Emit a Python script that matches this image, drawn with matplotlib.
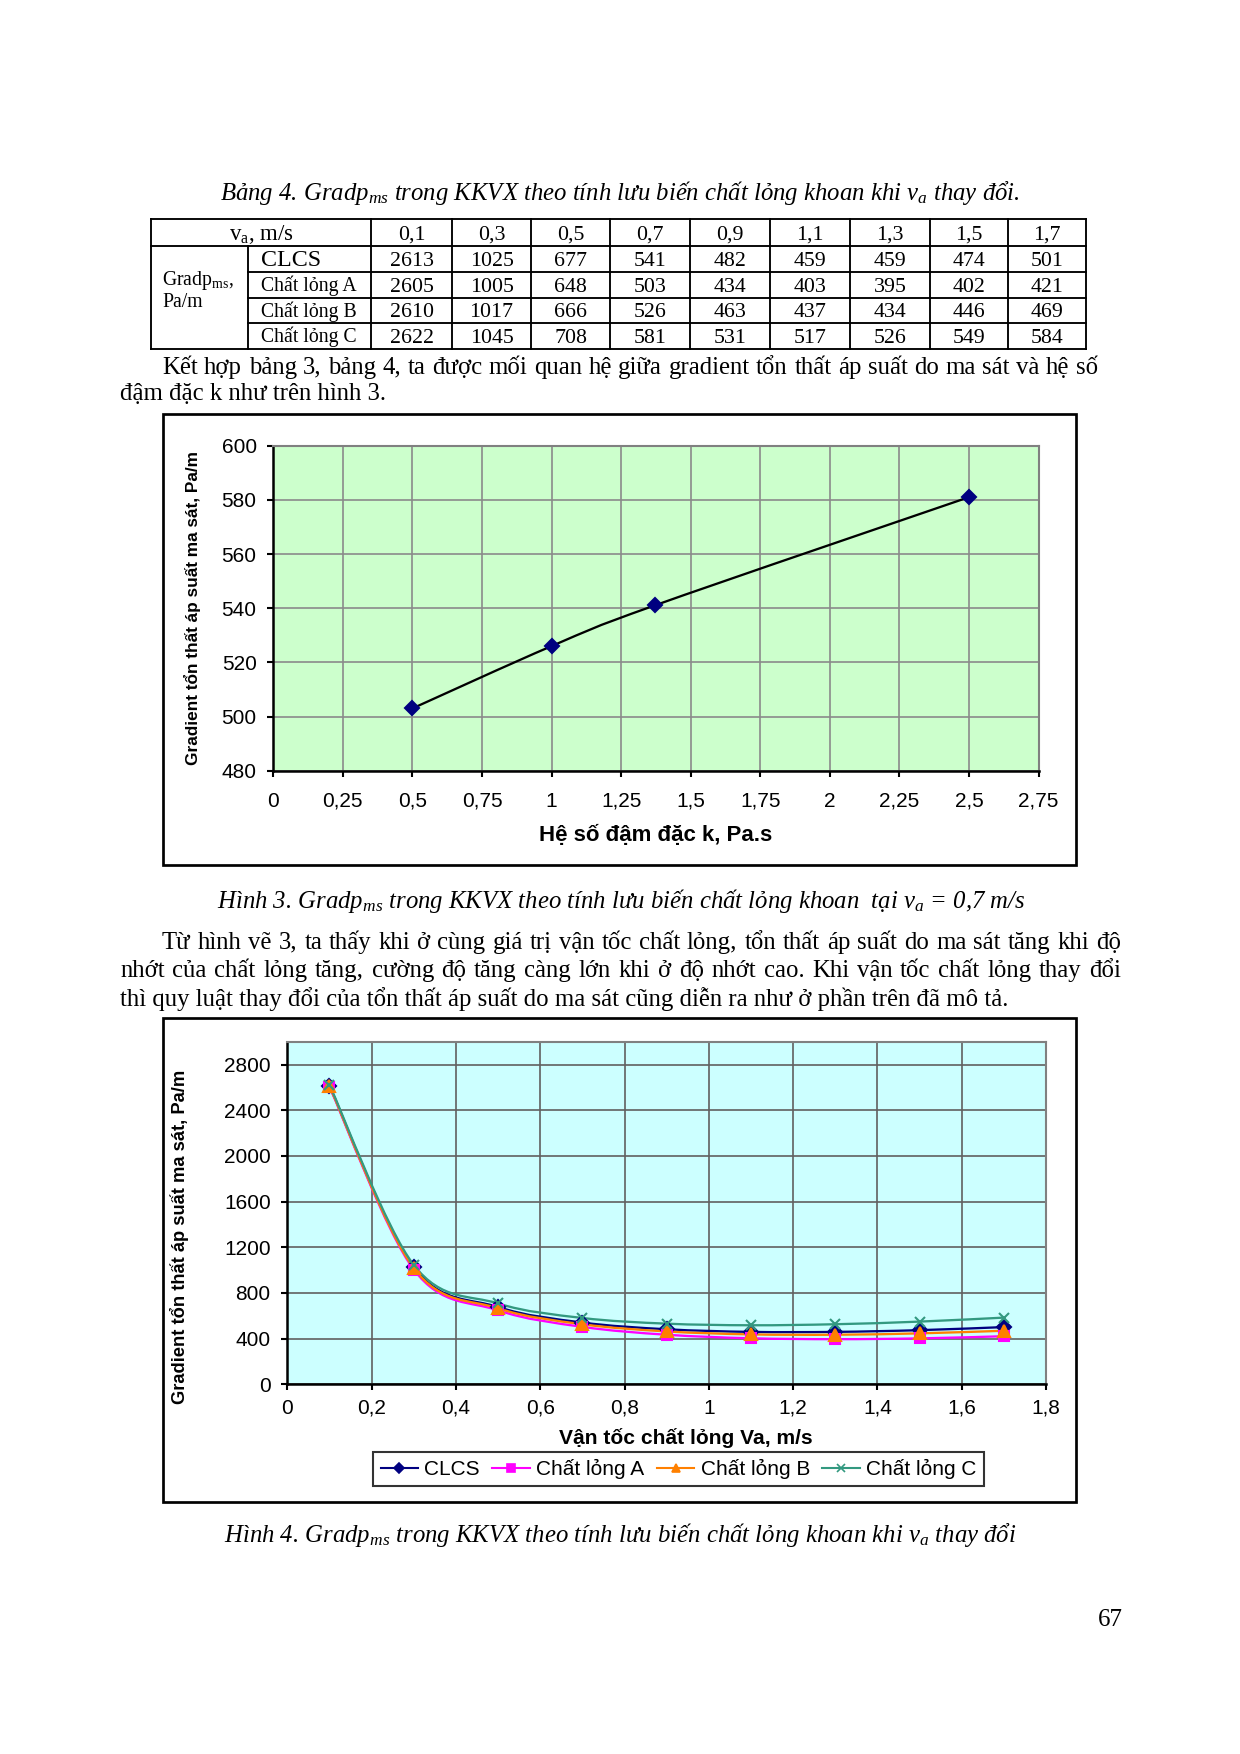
import numpy as np
import matplotlib
matplotlib.use('Agg')
import matplotlib.pyplot as plt
from matplotlib import font_manager
from matplotlib.path import Path
from matplotlib.patches import PathPatch, Rectangle
from matplotlib.lines import Line2D
from matplotlib.ticker import FuncFormatter

W, H, DPI = 1240, 1754, 150

# ---- data ----
va = [0.1, 0.3, 0.5, 0.7, 0.9, 1.1, 1.3, 1.5, 1.7]
va_labels = ['0,1', '0,3', '0,5', '0,7', '0,9', '1,1', '1,3', '1,5', '1,7']
clcs = [2613, 1025, 677, 541, 482, 459, 459, 474, 501]
fluid_a = [2605, 1005, 648, 503, 434, 403, 395, 402, 421]
fluid_b = [2610, 1017, 666, 526, 463, 437, 434, 446, 469]
fluid_c = [2622, 1045, 708, 581, 531, 517, 526, 549, 584]
series_names = ['CLCS', 'Chất lỏng A', 'Chất lỏng B', 'Chất lỏng C']

k_values = [0.5, 1.0, 1.37, 2.5]
grad_k = [503, 526, 541, 581]

plt.rcParams['font.family'] = ['Liberation Sans', 'DejaVu Sans']
plt.rcParams['mathtext.fontset'] = 'custom'
plt.rcParams['mathtext.rm'] = 'Liberation Serif'
plt.rcParams['mathtext.it'] = 'Liberation Serif:italic'

SERIF = ['Liberation Serif', 'DejaVu Serif']
try:
    font_manager.findfont('Liberation Sans Narrow', fallback_to_default=False)
    NARROW = ['Liberation Sans Narrow', 'Liberation Sans']
except Exception:
    NARROW = None

fig = plt.figure(figsize=(W / DPI, H / DPI), dpi=DPI)
page = fig.add_axes([0, 0, 1, 1])
page.set_xlim(0, W)
page.set_ylim(H, 0)
page.axis('off')
r = fig.canvas.get_renderer()


def px_rect(x0, y0, x1, y1):
    return [x0 / W, 1 - y1 / H, (x1 - x0) / W, (y1 - y0) / H]


def base(yc, size):
    # baseline from visual centre of a line of text
    return yc + 0.32 * size * DPI / 72


def fit_size(txt, target, **kw):
    t = page.text(0, 0, txt, fontsize=10, **kw)
    w = t.get_window_extent(renderer=r).width
    t.remove()
    return 10 * target / w


def justify(line, x0, x1, yc, size, **kw):
    words = line.split(' ')
    ts = [page.text(0, base(yc, size), w, fontsize=size, **kw) for w in words]
    ws = [t.get_window_extent(renderer=r).width for t in ts]
    gap = (x1 - x0 - sum(ws)) / (len(words) - 1)
    x = x0
    for t, w in zip(ts, ws):
        t.set_x(x)
        x += w + gap


def smooth_path(xs, ys):
    pts = np.column_stack([xs, ys]).astype(float)
    verts, codes = [pts[0]], [Path.MOVETO]
    n = len(pts)
    for i in range(n - 1):
        p0 = pts[i - 1] if i > 0 else pts[i]
        p1, p2 = pts[i], pts[i + 1]
        p3 = pts[i + 2] if i + 2 < n else pts[i + 1]
        verts += [p1 + (p2 - p0) / 6, p2 - (p3 - p1) / 6, p2]
        codes += [Path.CURVE4] * 3
    return Path(verts, codes)


comma = FuncFormatter(lambda v, p: ('%g' % v).replace('.', ','))

# ---- captions ----
cap_t4 = 'Bảng 4. Gradp$_{ms}$ trong KKVX theo tính lưu biến chất lỏng khoan khi v$_{a}$ thay đổi.'
cap_h3 = 'Hình 3. Gradp$_{ms}$ trong KKVX theo tính lưu biến chất lỏng khoan  tại v$_{a}$ = 0,7 m/s'
cap_h4 = 'Hình 4. Gradp$_{ms}$ trong KKVX theo tính lưu biến chất lỏng khoan khi v$_{a}$ thay đổi'
for txt, x0, x1, yc in [(cap_t4, 218, 1022, 192), (cap_h3, 215, 1027, 900),
                        (cap_h4, 222, 1018, 1534)]:
    s = fit_size(txt, x1 - x0, family=SERIF, style='italic')
    page.text((x0 + x1) / 2, base(yc, s), txt, fontsize=s, family=SERIF,
              style='italic', ha='center', va='baseline')

# ---- table ----
rows_y = [219, 245.5, 272, 297.5, 323, 349]
cols_x = [151, 248, 371, 452, 531, 610, 690, 770, 850, 930, 1008, 1086]
lw_t = 0.9
for i, y in enumerate(rows_y):
    xs = (151, 1086) if i in (0, 1, 5) else (248, 1086)
    page.plot(xs, [y, y], color='black', lw=lw_t)
for j, x in enumerate(cols_x):
    ys = (245.5, 349) if j == 1 else (219, 349)
    page.plot([x, x], ys, color='black', lw=lw_t)

cell_c = [(cols_x[j] + cols_x[j + 1]) / 2 for j in range(2, 11)]
row_c = [(rows_y[i] + rows_y[i + 1]) / 2 for i in range(5)]
page.text(261, base(row_c[0], 11), 'v$_\\mathrm{a}$, m/s', fontsize=11, family=SERIF,
          ha='center', va='baseline')
for x, lab in zip(cell_c, va_labels):
    page.text(x, base(row_c[0], 10.5), lab, fontsize=10.5, family=SERIF,
              ha='center', va='baseline')
page.text(162, base(279, 9.5), 'Gradp$_\\mathrm{ms}$,', fontsize=9.5, family=SERIF,
          va='baseline')
page.text(162, base(301, 9.5), 'Pa/m', fontsize=9.5, family=SERIF, va='baseline')
for i, (name, vals) in enumerate(zip(series_names, [clcs, fluid_a, fluid_b, fluid_c])):
    s = 11.5 if i == 0 else 9.5
    page.text(261, base(row_c[i + 1], s), name, fontsize=s, family=SERIF, va='baseline')
    for x, v in zip(cell_c, vals):
        page.text(x, base(row_c[i + 1], 10.5), str(v), fontsize=10.5, family=SERIF,
                  ha='center', va='baseline')

# ---- body text ----
p1 = ['Kết hợp bảng 3, bảng 4, ta được mối quan hệ giữa gradient tổn thất áp suất do ma sát và hệ số',
      'đậm đặc k như trên hình 3.']
p2 = ['Từ hình vẽ 3, ta thấy khi ở cùng giá trị vận tốc chất lỏng, tổn thất áp suất do ma sát tăng khi độ',
      'nhớt của chất lỏng tăng, cường độ tăng càng lớn khi ở độ nhớt cao. Khi vận tốc chất lỏng thay đổi',
      'thì quy luật thay đổi của tổn thất áp suất do ma sát cũng diễn ra như ở phần trên đã mô tả.']
bs = fit_size(p2[2], 893, family=SERIF)
justify(p1[0], 162, 1098, 366, bs, family=SERIF)
page.text(120, base(392, bs), p1[1], fontsize=bs, family=SERIF, va='baseline')
justify(p2[0], 162, 1121, 941, bs, family=SERIF)
justify(p2[1], 120, 1121, 969, bs, family=SERIF)
page.text(120, base(998, bs), p2[2], fontsize=bs, family=SERIF, va='baseline')
page.text(1110, base(1618, 12), '67', fontsize=12, family=SERIF, ha='center', va='baseline')

# ---- chart frames ----
page.add_patch(Rectangle((163, 414), 913, 451, fill=False, ec='black', lw=1.3))
page.add_patch(Rectangle((163, 1018), 912.5, 484, fill=False, ec='black', lw=1.3))


def style_axes(ax, grid_c):
    ax.grid(True, color=grid_c, lw=0.8)
    ax.set_axisbelow(True)
    for side in ('top', 'right'):
        ax.spines[side].set_color('#808080')
        ax.spines[side].set_linewidth(1.0)
    for side in ('left', 'bottom'):
        ax.spines[side].set_color('black')
        ax.spines[side].set_linewidth(1.2)
    ax.tick_params(direction='out', length=3, width=1, labelsize=10, colors='black')


# ---- chart 1 ----
ax1 = fig.add_axes(px_rect(273.3, 445.7, 1038.5, 770.7), facecolor='#CCFFCC')
ax1.set_xlim(0, 2.75)
ax1.set_ylim(480, 600)
ax1.set_xticks(np.arange(0, 2.76, 0.25))
ax1.set_yticks(np.arange(480, 601, 20))
ax1.xaxis.set_major_formatter(comma)
style_axes(ax1, '#8a8a8a')
ax1.tick_params(axis='x', pad=7)
ax1.tick_params(axis='y', pad=5)
ax1.add_patch(PathPatch(smooth_path(k_values, grad_k), fc='none', ec='black', lw=1.1))
ax1.plot(k_values, grad_k, ls='none', marker='D', ms=5, color='#000080')
s = fit_size('Gradient tổn thất áp suất ma sát, Pa/m', 315, weight='bold')
ax1.set_ylabel('Gradient tổn thất áp suất ma sát, Pa/m', fontsize=s, weight='bold')
ax1.yaxis.set_label_coords(-0.0945, 0.5)
s = fit_size('Hệ số đậm đặc k, Pa.s', 234, weight='bold')
ax1.set_xlabel('Hệ số đậm đặc k, Pa.s', fontsize=s, weight='bold')
ax1.xaxis.set_label_coords(0.5, -0.168)

# ---- chart 2 ----
ax2 = fig.add_axes(px_rect(287.3, 1041.7, 1046, 1384.3), facecolor='#CCFFFF')
ax2.set_xlim(0, 1.8)
ax2.set_ylim(0, 3000)
ax2.set_xticks(np.arange(0, 1.81, 0.2))
ax2.set_yticks(np.arange(0, 2801, 400))
ax2.xaxis.set_major_formatter(comma)
style_axes(ax2, '#606060')
ax2.tick_params(axis='x', pad=4)
ax2.tick_params(axis='y', pad=5)
colors = ['#000080', '#FF00FF', '#FF8000', '#339980']
markers = ['D', 's', '^', 'x']
sizes = [4.5, 5, 5.5, 5]
handles = []
for vals, c, m, ms in zip([clcs, fluid_a, fluid_b, fluid_c], colors, markers, sizes):
    ax2.add_patch(PathPatch(smooth_path(va, vals), fc='none', ec=c, lw=1.1))
    ax2.plot(va, vals, ls='none', marker=m, ms=ms, color=c, mew=1)
    handles.append(Line2D([], [], color=c, lw=1.0, marker=m, ms=ms * 0.75, mew=0.8))
ylab = 'Gradient tổn thất áp suất ma sát, Pa/m'
if NARROW:
    s = fit_size(ylab, 282, weight='bold', family=NARROW)
    ax2.set_ylabel(ylab, fontsize=s, weight='bold', family=NARROW)
else:
    ax2.set_ylabel(ylab, fontsize=8.8, weight='bold')
ax2.yaxis.set_label_coords(-0.1296, 0.431)
s = fit_size('Vận tốc chất lỏng Va, m/s', 254, weight='bold')
ax2.set_xlabel('Vận tốc chất lỏng Va, m/s', fontsize=s, weight='bold')
ax2.xaxis.set_label_coords(0.5255, -0.128)
leg = fig.legend(handles, series_names, loc='center', bbox_to_anchor=(0.5472, 0.1625),
                 ncol=4, frameon=True, fancybox=False, edgecolor='black', fontsize=10,
                 handlelength=1.8, columnspacing=0.6, handletextpad=0.3, borderpad=0.35,
                 borderaxespad=0)
leg.get_frame().set_linewidth(1.0)

fig.savefig('out.png', dpi=DPI, facecolor='white')
